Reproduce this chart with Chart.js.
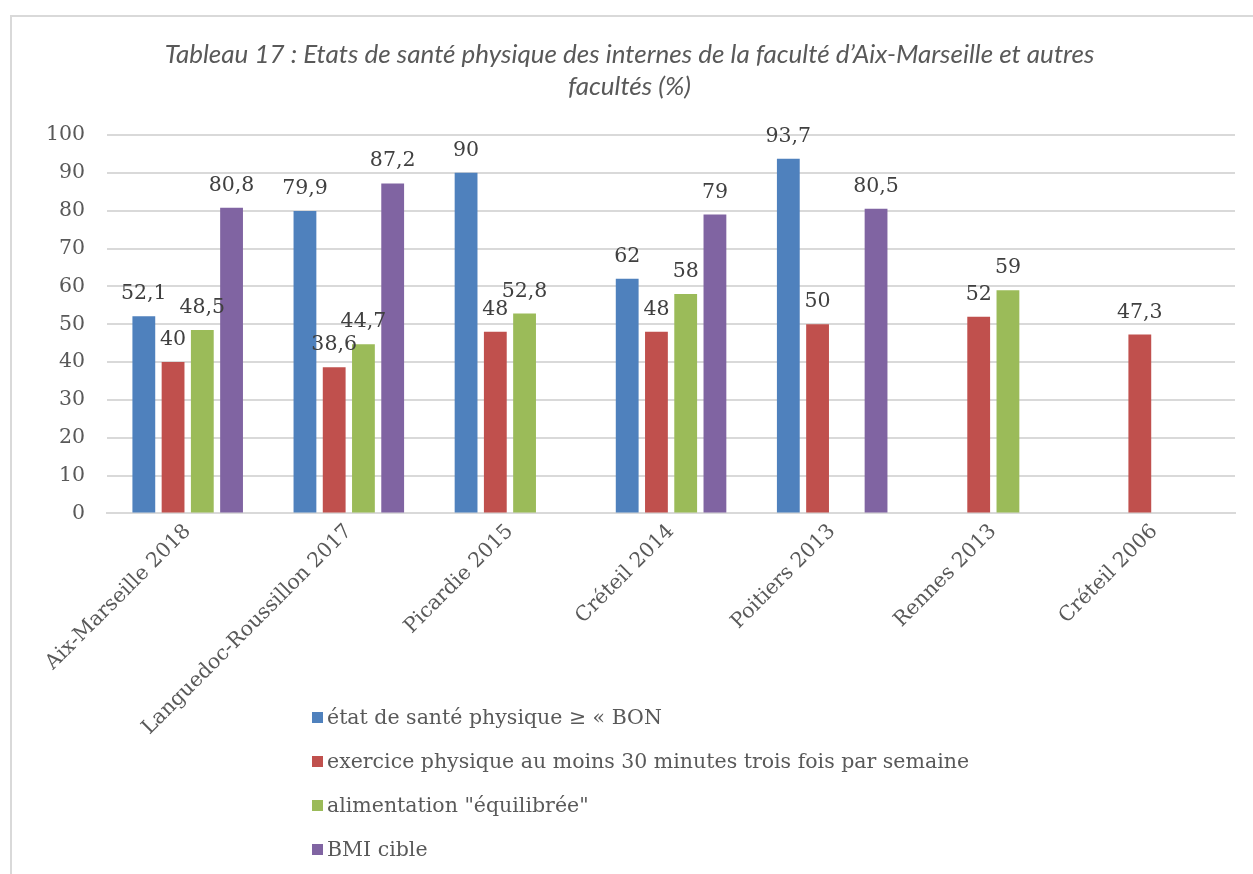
<!DOCTYPE html>
<html>
<head>
<meta charset="utf-8">
<script src="https://cdn.jsdelivr.net/npm/chart.js@4.4.1/dist/chart.umd.min.js"></script>
<style>
  html, body { margin: 0; padding: 0; background: #fff; overflow: hidden; }
  #wrap { position: relative; width: 1253px; height: 874px; }
  #frame { position: absolute; left: 10px; top: 15px; width: 1300px; height: 900px;
           border: 2px solid #d9d9d9; box-sizing: border-box; }
  #chart { position: absolute; left: 0; top: 0; }
  #legend { position: absolute; left: 312px; top: 695px; font-family: "DejaVu Serif", serif;
            font-size: 20.5px; color: #595959; }
  #legend div { height: 44px; display: flex; align-items: center; white-space: nowrap; }
  #legend span.box { display: inline-block; width: 11px; height: 11px; margin-right: 4px; }
</style>
</head>
<body>
<div id="wrap">
  <div id="frame"></div>
  <canvas id="chart" width="1253" height="874"></canvas>
  <div id="legend"></div>
</div>
<script>
// ===================================
// Data
// ===================================
const categories = ['Aix-Marseille 2018', 'Languedoc-Roussillon 2017', 'Picardie 2015',
    'Créteil 2014', 'Poitiers 2013', 'Rennes 2013', 'Créteil 2006'];
const seriesNames = ['état de santé physique ≥ « BON', 'exercice physique au moins 30 minutes trois fois par semaine',
    'alimentation "équilibrée"', 'BMI cible'];
const santeBon = [52.1, 79.9, 90, 62, 93.7, null, null];
const exercice = [40, 38.6, 48, 48, 50, 52, 47.3];
const alimentation = [48.5, 44.7, 52.8, 58, null, 59, null];
const bmiCible = [80.8, 87.2, null, 79, 80.5, null, null];
const yTicks = [0, 10, 20, 30, 40, 50, 60, 70, 80, 90, 100];
const colors = ['#4f81bd', '#c0504d', '#9bbb59', '#8064a2'];

const serif = '"DejaVu Serif", serif';

// value labels above bars
const valueLabels = {
    id: 'valueLabels',
    afterDatasetsDraw(chart) {
        const ctx = chart.ctx;
        ctx.save();
        ctx.font = '20.5px ' + serif;
        ctx.fillStyle = '#404040';
        ctx.textAlign = 'center';
        ctx.textBaseline = 'bottom';
        chart.data.datasets.forEach(function (ds, i) {
            const meta = chart.getDatasetMeta(i);
            meta.data.forEach(function (bar, j) {
                const v = ds.data[j];
                if (v === null || v === undefined) return;
                ctx.fillText(String(v).replace('.', ','), bar.x, bar.y - 12);
            });
        });
        ctx.restore();
    }
};

const allSeries = [santeBon, exercice, alimentation, bmiCible];

new Chart(document.getElementById('chart'), {
    type: 'bar',
    data: {
        labels: categories,
        datasets: allSeries.map(function (d, i) {
            return {
                label: seriesNames[i],
                data: d,
                backgroundColor: colors[i],
                categoryPercentage: 0.726,
                barPercentage: 0.78
            };
        })
    },
    options: {
        responsive: false,
        animation: false,
        layout: { padding: { left: 24, right: 18, top: 39, bottom: 128 } },
        plugins: {
            legend: { display: false },
            tooltip: { enabled: false },
            title: {
                display: true,
                text: ['Tableau 17 : Etats de santé physique des internes de la faculté d\u2019Aix-Marseille et autres', 'facultés (%)'],
                color: '#595959',
                font: { family: 'Lato, sans-serif', style: 'italic', size: 26, weight: 'normal', lineHeight: 1.23 },
                padding: { top: 0, bottom: 32 }
            }
        },
        scales: {
            x: {
                grid: { display: false, drawTicks: false },
                border: { color: '#d9d9d9', width: 2 },
                ticks: {
                    color: '#595959',
                    font: { family: serif, size: 20.5 },
                    minRotation: 45, maxRotation: 45,
                    padding: 6
                }
            },
            y: {
                min: 0, max: 100,
                afterBuildTicks: function (axis) { axis.ticks = yTicks.map(function (v) { return { value: v }; }); },
                grid: { color: '#d9d9d9', lineWidth: 2, drawTicks: false },
                border: { display: false },
                ticks: {
                    color: '#595959',
                    font: { family: serif, size: 20.5 },
                    padding: 22
                }
            }
        }
    },
    plugins: [valueLabels]
});

// vertical legend
const legend = document.getElementById('legend');
seriesNames.forEach(function (name, i) {
    const row = document.createElement('div');
    const box = document.createElement('span');
    box.className = 'box';
    box.style.background = colors[i];
    row.appendChild(box);
    row.appendChild(document.createTextNode(name));
    legend.appendChild(row);
});
</script>
</body>
</html>
